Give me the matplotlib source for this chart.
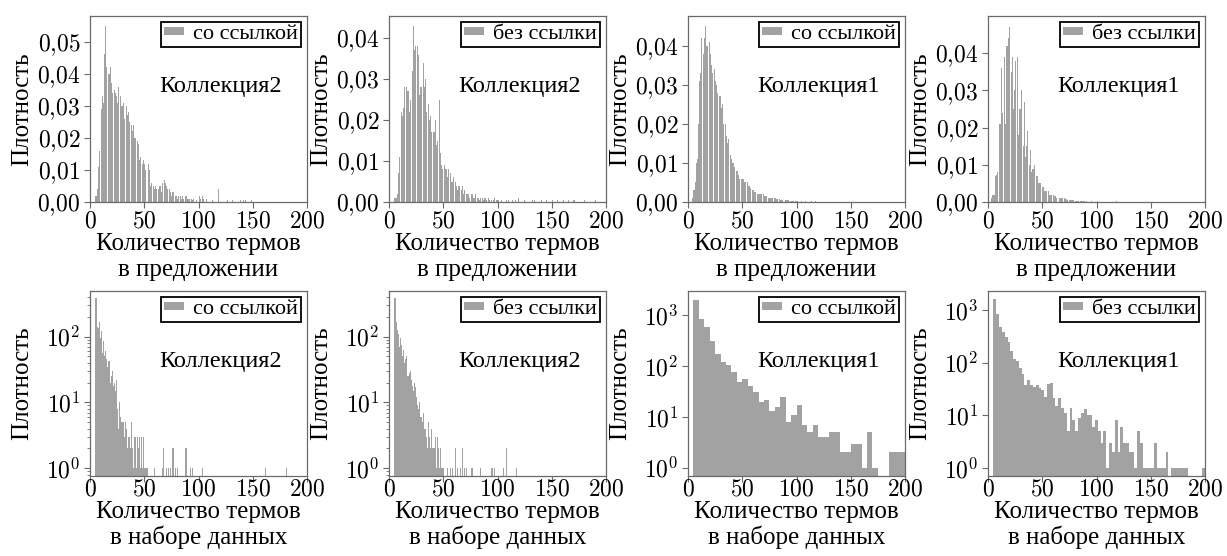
import numpy as np
import matplotlib
matplotlib.use("Agg")
import matplotlib.pyplot as plt
from matplotlib.ticker import FixedLocator, LogLocator, NullFormatter

plt.rcParams['mathtext.fontset'] = 'cm'
plt.rcParams['font.family'] = ['Liberation Serif', 'DejaVu Serif']

# ---------------- data ----------------
# top row: density per sentence length (bin width 1, first bin starts at *_start)
c2_link_sent_start = 5
c2_link_sent = [0.002, 0.004, 0.011, 0.016, 0.0, 0.029, 0.033, 0.031, 0.046, 0.055,
                0.042, 0.0, 0.040, 0.042, 0.037, 0.034, 0.0, 0.035, 0.034, 0.033,
                0.031, 0.036, 0.0, 0.033, 0.030, 0.031, 0.026, 0.0, 0.030, 0.027,
                0.028, 0.025, 0.0, 0.024, 0.022, 0.024, 0.020, 0.0, 0.019, 0.018,
                0.013, 0.014, 0.0, 0.012, 0.013, 0.012, 0.010, 0.0, 0.012, 0.010,
                0.005, 0.006, 0.0, 0.005, 0.004, 0.005, 0.004, 0.0, 0.004, 0.005,
                0.003, 0.006, 0.0, 0.007, 0.006, 0.005, 0.004, 0.0, 0.004, 0.003,
                0.002, 0.003, 0.0, 0.002, 0.002, 0.001, 0.002, 0.0, 0.002, 0.001,
                0.002, 0.001, 0.0, 0.002, 0.001, 0.001, 0.001, 0.0, 0.001, 0.0005,
                0.001, 0.0, 0.0, 0.0005, 0.0, 0.002, 0.001, 0.0, 0.002, 0.001]
c2_link_sent_tail_x = [107, 112, 118, 126, 131, 138, 141, 143, 148]
c2_link_sent_tail_y = [0.001, 0.0005, 0.004, 0.0005, 0.0005, 0.0005, 0.0005, 0.0005, 0.0005]

c2_nolink_sent_start = 5
c2_nolink_sent = [0.001, 0.001, 0.002, 0.007, 0.011, 0.0, 0.022, 0.021, 0.023, 0.028,
                  0.0, 0.028, 0.027, 0.022, 0.025, 0.0, 0.032, 0.043, 0.037, 0.038,
                  0.0, 0.038, 0.036, 0.026, 0.028, 0.0, 0.034, 0.028, 0.030, 0.022,
                  0.0, 0.024, 0.020, 0.021, 0.017, 0.0, 0.017, 0.020, 0.014, 0.015,
                  0.0, 0.025, 0.012, 0.009, 0.008, 0.0, 0.009, 0.008, 0.006, 0.008,
                  0.0, 0.007, 0.005, 0.005, 0.006, 0.0, 0.005, 0.004, 0.003, 0.004,
                  0.0, 0.003, 0.004, 0.002, 0.003, 0.0, 0.002, 0.002, 0.002, 0.001,
                  0.0, 0.002, 0.001, 0.001, 0.002, 0.0, 0.001, 0.001, 0.0005, 0.001,
                  0.0, 0.001, 0.0005, 0.001, 0.0005, 0.0, 0.001, 0.0005, 0.0, 0.0005,
                  0.0, 0.0005, 0.001, 0.0, 0.0005, 0.0005]
c2_nolink_sent_tail_x = [103, 108, 110, 113, 116, 119, 124, 132, 134, 140, 145, 150, 155,
                         160, 165, 170, 180, 190]
c2_nolink_sent_tail_y = [0.0005, 0.0005, 0.0005, 0.0005, 0.0005, 0.001, 0.0005, 0.0005,
                         0.0005, 0.0005, 0.0005, 0.0005, 0.0005, 0.0005, 0.0005, 0.0005,
                         0.0005, 0.0005]

c1_link_sent_start = 4
c1_link_sent = [0.001, 0.003, 0.005, 0.010, 0.011, 0.020, 0.031, 0.033, 0.042, 0.0,
                0.038, 0.042, 0.045, 0.040, 0.0, 0.041, 0.038, 0.035, 0.033, 0.0,
                0.034, 0.031, 0.030, 0.028, 0.0, 0.027, 0.024, 0.025, 0.020, 0.0,
                0.020, 0.017, 0.015, 0.016, 0.0, 0.012, 0.011, 0.010, 0.009, 0.0,
                0.008, 0.008, 0.007, 0.006, 0.0, 0.006, 0.006, 0.006, 0.005, 0.0,
                0.005, 0.004, 0.004, 0.0035, 0.0, 0.003, 0.003, 0.0025, 0.0025, 0.0,
                0.002, 0.002, 0.002, 0.002, 0.0, 0.002, 0.0015, 0.0015, 0.0015, 0.0,
                0.001, 0.001, 0.001, 0.001, 0.0, 0.001, 0.001, 0.0008, 0.0008, 0.0,
                0.0007, 0.0006, 0.0005, 0.0005, 0.0, 0.0005, 0.0004, 0.0004, 0.0004, 0.0,
                0.0003, 0.0003, 0.0003, 0.0003, 0.0, 0.0003, 0.0002]
c1_link_sent_tail_x = [104, 108, 113, 117, 122, 128, 134, 145]
c1_link_sent_tail_y = [0.0002, 0.0002, 0.0002, 0.0002, 0.0001, 0.0001, 0.0001, 0.0001]

c1_nolink_sent_start = 3
c1_nolink_sent = [0.001, 0.002, 0.002, 0.007, 0.0072, 0.008, 0.0, 0.021, 0.021, 0.036,
                  0.024, 0.0, 0.039, 0.021, 0.042, 0.044, 0.047, 0.0, 0.035, 0.039,
                  0.025, 0.030, 0.038, 0.0, 0.039, 0.018, 0.025, 0.030, 0.0, 0.015,
                  0.027, 0.012, 0.015, 0.019, 0.0, 0.010, 0.014, 0.008, 0.009, 0.010,
                  0.0, 0.007, 0.007, 0.005, 0.005, 0.005, 0.0, 0.004, 0.004, 0.003,
                  0.003, 0.0, 0.003, 0.002, 0.002, 0.002, 0.0, 0.002, 0.0015, 0.0015,
                  0.0012, 0.0, 0.0012, 0.001, 0.001, 0.001, 0.0, 0.001, 0.0008, 0.0008,
                  0.0006, 0.0, 0.0005, 0.0005, 0.0005, 0.0005, 0.0, 0.0004, 0.0004, 0.0003,
                  0.0003, 0.0, 0.0003, 0.0003, 0.0002, 0.0002, 0.0, 0.0002]
c1_nolink_sent_tail_x = [95, 100, 106, 112, 118, 125, 140, 168]
c1_nolink_sent_tail_y = [0.0002, 0.0002, 0.0001, 0.0001, 0.0002, 0.0001, 0.0001, 0.0001]

# bottom row: counts per dataset size
c2_link_data_start = 5
c2_link_data = [390, 140, 135, 170, 95, 120, 56, 85, 50, 60,
                45, 35, 42, 20, 25, 30, 18, 20, 15, 22,
                8, 4, 10, 6, 5, 5, 3, 5, 4, 2,
                3, 3, 2, 5, 2, 1, 3, 1, 3, 2,
                3, 1, 3, 1, 3, 1, 1, 1]
c2_link_data_tail_x = [59, 66, 67, 70, 72, 74, 76, 78, 80, 88, 92, 94, 103, 161, 181]
c2_link_data_tail_y = [1, 1, 2, 1, 1, 1, 2, 1, 1, 2, 1, 1, 1, 1, 1]

c2_nolink_data_start = 5
c2_nolink_data = [390, 170, 127, 110, 70, 95, 75, 50, 63, 40,
                  45, 50, 25, 28, 30, 22, 18, 15, 20, 17,
                  12, 9, 8, 10, 6, 5, 7, 4, 4, 3,
                  2, 5, 3, 2, 4, 2, 2, 3, 1, 3,
                  2, 1, 2, 1, 1, 1]
c2_nolink_data_tail_x = [53, 56, 58, 61, 63, 65, 67, 69, 71, 76, 84, 94, 95, 97, 105, 108, 117]
c2_nolink_data_tail_y = [1, 1, 1, 2, 1, 1, 2, 1, 1, 1, 1, 1, 1, 1, 1, 2, 1]

# Collection 1 bottom: wider bins
c1_link_data_edges_start, c1_link_data_binw = 5, 5
c1_link_data = [2000, 850, 580, 305, 175, 123, 103, 76, 48, 56,
                40, 31, 20, 22, 13, 16, 25, 8, 11, 17,
                7, 5, 7, 4, 4, 5, 5, 2, 2, 3,
                3, 1, 5, 1, 0, 0, 2, 2, 2]

c1_nolink_data_edges_start, c1_nolink_data_binw = 5, 2.6
c1_nolink_data = [1640, 850, 475, 380, 310, 247, 170, 120, 110, 78,
                  62, 37, 47, 38, 34, 37, 33, 30, 22, 40,
                  41, 21, 15, 21, 14, 11, 5, 14, 8, 5,
                  9, 11, 13, 10, 10, 6, 8, 5, 3, 5,
                  1, 3, 2, 8, 2, 6, 3, 3, 2, 2,
                  1, 5, 3, 1, 1, 1, 1, 3, 1, 1,
                  1, 2, 0, 1, 1, 1, 1, 1, 1, 0,
                  0, 0, 0, 0, 1]

legend_labels = ['со ссылкой', 'без ссылки', 'со ссылкой', 'без ссылки']
collection_labels = ['Коллекция2', 'Коллекция2', 'Коллекция1', 'Коллекция1']
ylabel = 'Плотность'
xlabel_top = ['Количество термов', 'в предложении']
xlabel_bottom = ['Количество термов', 'в наборе данных']
xticks = [0, 50, 100, 150, 200]

# ---------------- layout ----------------
W, H = 1227, 556
fig = plt.figure(figsize=(W / 100, H / 100), dpi=100)
lefts = [90, 389, 688, 988]
axw = 217
rows = [(16, 202), (291, 476)]
BAR = '#a2a2a2'
SPINE = '#6a6a6a'
TICK_FS = 17
LAB_FS = 18
COLL_FS = 17.5
LEG_FS = 16


def add_ax(col, row):
    l = lefts[col]
    t, b = rows[row]
    return fig.add_axes([l / W, 1 - b / H, axw / W, (b - t) / H])


def style(ax, row):
    for s in ax.spines.values():
        s.set_color(SPINE)
        s.set_linewidth(0.9)
    ax.tick_params(direction='out', length=4, width=0.8, color=SPINE, pad=3,
                   labelsize=TICK_FS)
    if row == 1:
        ax.tick_params(axis='x', pad=-1.5)
    ax.tick_params(which='minor', direction='out', length=2, width=0.6, color=SPINE)
    ax.set_xlim(0, 200)
    ax.xaxis.set_major_locator(FixedLocator(xticks))
    ax.set_xticklabels(['$%d$' % v for v in xticks])


def decorate(ax, col, row):
    leg = ax.legend(loc='upper right', fontsize=LEG_FS, frameon=True, fancybox=False,
                    framealpha=1, edgecolor='black', borderpad=0.15, borderaxespad=0.25,
                    handlelength=0.9, handleheight=0.22, handletextpad=0.4)
    leg.get_frame().set_linewidth(1.3)
    ax.text(0.60, 0.62, collection_labels[col], transform=ax.transAxes,
            ha='center', va='center', fontsize=COLL_FS)
    cx = (lefts[col] + axw / 2) / W
    fig.text((lefts[col] - 68) / W, 1 - ((rows[row][0] + rows[row][1]) / 2) / H, ylabel,
             rotation=90, ha='center', va='center', fontsize=LAB_FS)
    lines = xlabel_top if row == 0 else xlabel_bottom
    bl = [250, 276] if row == 0 else [518, 544]
    for txt, b in zip(lines, bl):
        fig.text(cx, 1 - b / H, txt, ha='center', va='baseline', fontsize=LAB_FS)


# ---- top row ----
top = [
    (c2_link_sent_start, c2_link_sent, c2_link_sent_tail_x, c2_link_sent_tail_y, 0.058, [0, 0.01, 0.02, 0.03, 0.04, 0.05]),
    (c2_nolink_sent_start, c2_nolink_sent, c2_nolink_sent_tail_x, c2_nolink_sent_tail_y, 0.0454, [0, 0.01, 0.02, 0.03, 0.04]),
    (c1_link_sent_start, c1_link_sent, c1_link_sent_tail_x, c1_link_sent_tail_y, 0.0476, [0, 0.01, 0.02, 0.03, 0.04]),
    (c1_nolink_sent_start, c1_nolink_sent, c1_nolink_sent_tail_x, c1_nolink_sent_tail_y, 0.050, [0, 0.01, 0.02, 0.03, 0.04]),
]
for col, (start, vals, tx, ty, ymax, yt) in enumerate(top):
    ax = add_ax(col, 0)
    x = np.concatenate([np.arange(start, start + len(vals)), tx])
    h = np.concatenate([vals, ty])
    ax.bar(x, h, width=1.0, align='edge', color=BAR, linewidth=0,
           label=legend_labels[col])
    style(ax, 0)
    ax.set_ylim(0, ymax)
    ax.yaxis.set_major_locator(FixedLocator(yt))
    ax.set_yticklabels([('$%.2f$' % v).replace('.', '{,}') for v in yt])
    decorate(ax, col, 0)

# ---- bottom row ----
bottom_fine = [
    (c2_link_data_start, c2_link_data, c2_link_data_tail_x, c2_link_data_tail_y),
    (c2_nolink_data_start, c2_nolink_data, c2_nolink_data_tail_x, c2_nolink_data_tail_y),
]
bottom_ylims = [(0.76, 495), (0.76, 495), (0.69, 3000), (0.70, 2330)]
for col in range(4):
    ax = add_ax(col, 1)
    ax.set_yscale('log', nonpositive='clip')
    if col < 2:
        start, vals, tx, ty = bottom_fine[col]
        x = np.concatenate([np.arange(start, start + len(vals)), tx])
        h = np.concatenate([vals, ty]).astype(float)
        w = 1.0
    elif col == 2:
        h = np.array(c1_link_data, dtype=float)
        x = c1_link_data_edges_start + c1_link_data_binw * np.arange(len(h))
        w = c1_link_data_binw
    else:
        h = np.array(c1_nolink_data, dtype=float)
        x = c1_nolink_data_edges_start + c1_nolink_data_binw * np.arange(len(h))
        w = c1_nolink_data_binw
    ax.bar(x, h, width=w, align='edge', color=BAR, linewidth=0,
           label=legend_labels[col])
    style(ax, 1)
    ax.set_ylim(*bottom_ylims[col])
    top_exp = 2 if col < 2 else 3
    majors = [10 ** k for k in range(top_exp + 1)]
    ax.yaxis.set_major_locator(FixedLocator(majors))
    ax.set_yticklabels(['$10^{%d}$' % k for k in range(top_exp + 1)])
    ax.yaxis.set_minor_locator(LogLocator(base=10, subs=np.arange(2, 10)))
    ax.yaxis.set_minor_formatter(NullFormatter())
    decorate(ax, col, 1)

fig.savefig('out.png', dpi=100)
